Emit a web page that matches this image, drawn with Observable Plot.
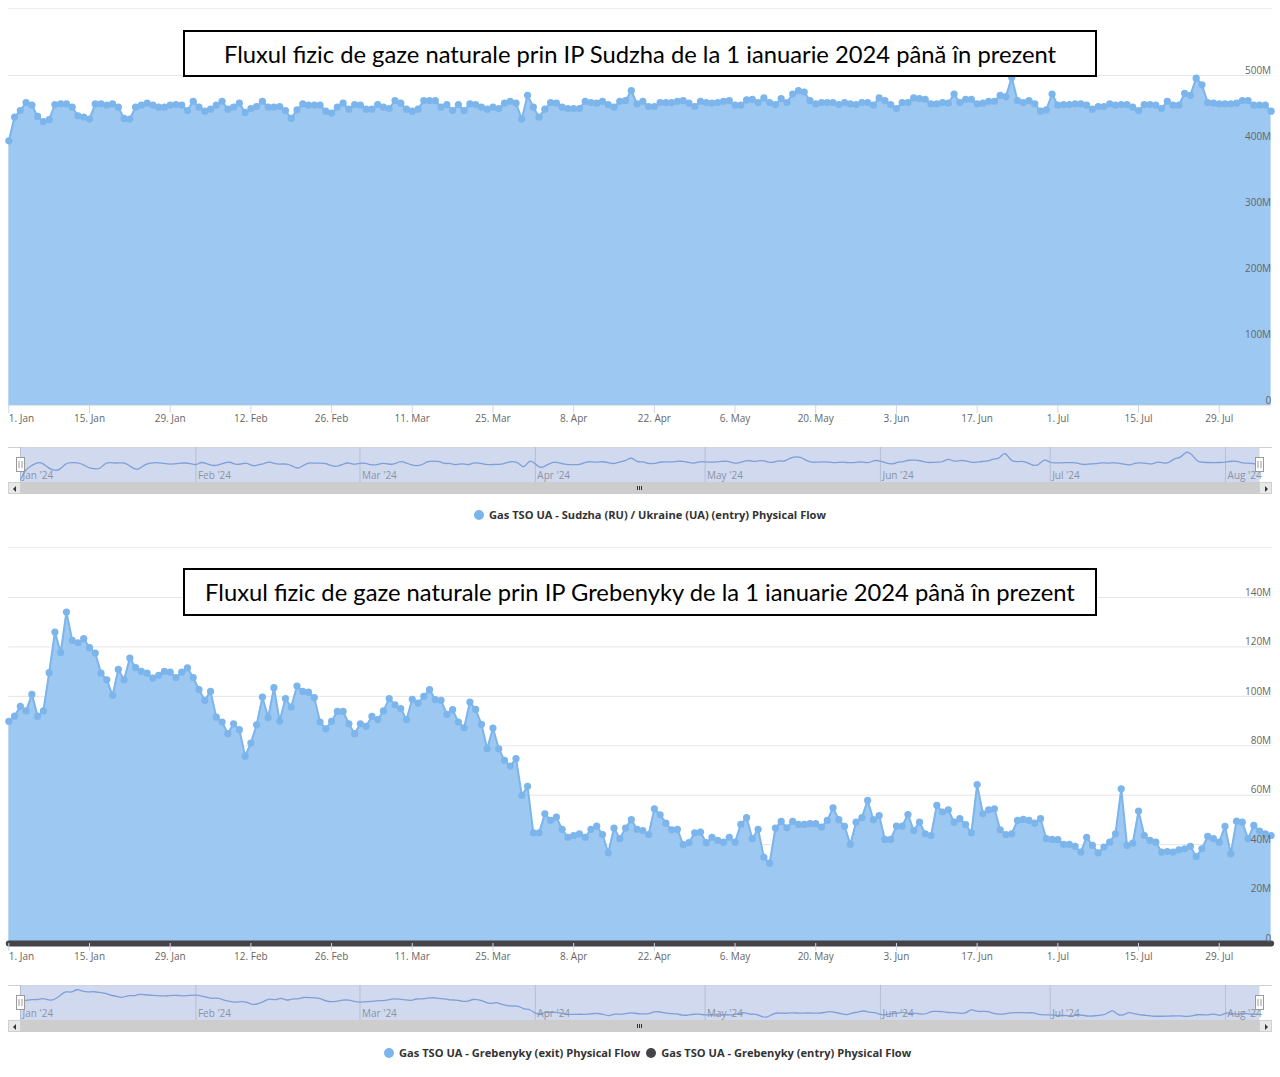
<!DOCTYPE html>
<html><head><meta charset="utf-8">
<script src="https://cdn.jsdelivr.net/npm/d3@7"></script>
<script src="https://cdn.jsdelivr.net/npm/@observablehq/plot@0.6"></script>
<style>
html,body{margin:0;padding:0;background:#fff;}
#root{position:relative;width:1280px;height:1077px;overflow:hidden;font-family:"Open Sans",sans-serif;}
#root > *{position:absolute;}
.sep{left:8px;width:1264px;height:1px;background:#ececec;}
.titlebox{left:183px;width:914px;border:2px solid #000;background:#fff;box-sizing:border-box;display:flex;align-items:center;justify-content:center;font-family:Lato,sans-serif;color:#000;white-space:nowrap;}
.navline{left:8px;width:1264px;height:1px;background:#cfcfcf;}
.scroll{left:8px;width:1264px;height:12px;background:#cdcdcd;}
.btn{position:absolute;top:0;width:13px;height:12px;background:#e8e8e8;box-sizing:border-box;border:1px solid #cfcfcf;}
.arrow{position:absolute;top:3px;width:0;height:0;border-top:3px solid transparent;border-bottom:3px solid transparent;}
.arrow.l{left:4px;border-right:3px solid #333;}
.arrow.r{left:5px;border-left:3px solid #333;}
.grip{position:absolute;left:629px;top:4px;width:1px;height:4px;background:#333;box-shadow:2px 0 0 #333,4px 0 0 #333;}
.legend{font-size:11.1px;font-weight:700;color:#333;white-space:nowrap;line-height:14px;}
.legend .dot{display:inline-block;width:10px;height:10px;border-radius:50%;vertical-align:-1px;margin-right:5px;}
</style></head>
<body><div id="root"></div>
<script>
// ---------------- DATA ----------------
const startDate = "2024-01-01";

// Sudzha (RU) / Ukraine (UA) entry physical flow, million units per day
const sudzha = [
401,437,447,459,455,438,430,433,456,457,
457,452,439,437,434,457,457,455,457,452,
435,434,452,455,458,455,452,452,455,456,
455,447,461,452,446,449,455,461,449,452,
458,444,450,453,461,452,452,453,447,435,
448,457,455,455,455,446,443,452,458,449,
456,455,449,449,456,452,450,462,458,449,
446,449,
462,462,462,452,456,447,456,447,457,456,
452,449,452,450,458,461,458,434,470,452,
437,449,459,458,452,450,450,450,461,459,
458,461,456,452,461,462,477,457,461,453,
453,459,459,459,461,462,458,453,461,459,
458,459,461,462,455,455,463,464,459,466,
459,456,465,459,472,477,475,462,457,459,
459,459,456,
459,457,456,459,459,455,466,462,456,450,
459,459,466,465,464,457,457,459,458,472,
459,464,464,457,458,461,461,470,468,497,
462,459,462,457,446,448,472,455,456,456,
457,457,455,449,453,453,457,455,456,456,
452,447,456,456,455,450,461,455,455,473,
470,496,486,459,458,457,457,457,458,462,
462,455,455,455,446
];

// Grebenyky (exit) physical flow
const grebenykyExit = [
89.9,92.0,96.0,94.1,100.8,92.0,94.1,109.6,126.0,117.7,
134.1,122.7,121.7,123.4,119.7,117.5,109.4,106.7,100.4,110.9,
106.7,115.5,111.6,110.1,109.4,107.4,108.5,110.1,109.8,107.6,
109.8,111.5,107.6,102.7,98.4,102.0,91.6,89.6,84.9,88.9,
86.5,75.8,81.1,88.5,99.7,91.4,103.5,90.0,99.1,95.7,
104.2,102.0,101.7,99.5,89.6,86.9,89.9,93.9,93.9,88.9,
84.9,88.9,87.9,91.9,90.6,94.1,99.1,96.6,95.0,90.6,
98.8,97.3,
100.0,102.7,98.7,98.4,92.7,94.6,89.6,87.3,97.7,94.7,
88.7,78.8,87.2,78.8,74.1,71.8,74.8,59.9,63.6,44.8,
44.8,52.5,49.8,51.1,46.2,43.0,43.7,44.4,43.0,46.2,
47.5,44.1,36.7,46.7,42.4,46.7,50.1,46.2,45.7,44.1,
54.5,52.1,48.7,46.0,46.2,40.0,40.8,44.8,45.1,40.8,
43.0,41.7,41.0,43.0,41.0,48.2,50.9,42.4,46.2,34.9,
32.5,46.7,49.4,46.8,49.4,48.2,48.2,48.5,48.5,47.1,
49.8,54.9,50.1,47.4,40.1,49.1,
50.9,57.9,50.1,51.8,42.1,42.1,47.5,47.5,52.2,45.7,
49.1,44.4,43.7,55.9,53.2,54.1,49.1,50.5,48.1,44.8,
64.3,52.5,54.1,54.5,46.0,44.1,44.4,49.8,50.2,49.8,
48.7,50.5,42.4,42.1,42.0,40.1,40.1,39.3,37.0,43.0,
39.7,36.7,39.0,41.0,44.4,62.6,39.7,40.6,53.6,43.7,
41.7,41.0,37.0,37.2,37.0,37.9,38.3,39.3,35.2,38.3,
43.4,42.4,41.0,47.4,36.3,49.5,49.1,42.4,47.8,45.5,
44.4,43.7
];

// Grebenyky (entry) physical flow — zero throughout
const grebenykyEntry = [
0,0,0,0,0,0,0,0,0,0, 0,0,0,0,0,0,0,0,0,0, 0,0,0,0,0,0,0,0,0,0,
0,0,0,0,0,0,0,0,0,0, 0,0,0,0,0,0,0,0,0,0, 0,0,0,0,0,0,0,0,0,0,
0,0,0,0,0,0,0,0,0,0, 0,0,0,0,0,0,0,0,0,0, 0,0,0,0,0,0,0,0,0,0,
0,0,0,0,0,0,0,0,0,0, 0,0,0,0,0,0,0,0,0,0, 0,0,0,0,0,0,0,0,0,0,
0,0,0,0,0,0,0,0,0,0, 0,0,0,0,0,0,0,0,0,0, 0,0,0,0,0,0,0,0,0,0,
0,0,0,0,0,0,0,0,0,0, 0,0,0,0,0,0,0,0,0,0, 0,0,0,0,0,0,0,0,0,0,
0,0,0,0,0,0,0,0,0,0, 0,0,0,0,0,0,0,0,0,0,
0,0,0,0,0,0,0,0,0,0, 0,0,0,0,0,0,0,0,0,0
];

const xTickLabels = ["2024-01-01","2024-01-15","2024-01-29","2024-02-12","2024-02-26","2024-03-11","2024-03-25","2024-04-08","2024-04-22","2024-05-06","2024-05-20","2024-06-03","2024-06-17","2024-07-01","2024-07-15","2024-07-29"];
const monthTickLabels = ["2024-01-01","2024-02-01","2024-03-01","2024-04-01","2024-05-01","2024-06-01","2024-07-01","2024-08-01"];
const yTicksSudzha = [0,100,200,300,400,500];
const yTicksGrebenyky = [0,20,40,60,80,100,120,140];

const title1 = "Fluxul fizic de gaze naturale prin IP Sudzha de la 1 ianuarie 2024 până în prezent";
const title2 = "Fluxul fizic de gaze naturale prin IP Grebenyky de la 1 ianuarie 2024 până în prezent";
const legend1 = ["Gas TSO UA - Sudzha (RU) / Ukraine (UA) (entry) Physical Flow"];
const legend2 = ["Gas TSO UA - Grebenyky (exit) Physical Flow", "Gas TSO UA - Grebenyky (entry) Physical Flow"];

// ---------------- BUILD ----------------
const root = document.getElementById("root");
const start = new Date(startDate);
const dates = sudzha.map((_, i) => d3.utcDay.offset(start, i));
const xDomain = [dates[0], dates[dates.length - 1]];
const xTicks = xTickLabels.map(s => new Date(s));
const monthTicks = monthTickLabels.map(s => new Date(s));
const fmtDay = d3.utcFormat("%-d. %b");
const fmtMonth = d3.utcFormat("%b '%y");
const fmtM = d => d === 0 ? "0" : d + "M";
const BLUE = "#7cb5ec";
const AREA = "#9dc8f1";
const DARK = "#434348";

function place(el, top, left = 0) {
  el.style.position = "absolute";
  el.style.top = top + "px";
  el.style.left = left + "px";
  root.appendChild(el);
  return el;
}
function div(cls, top, extra = "") {
  const d = document.createElement("div");
  d.className = cls;
  d.style.cssText = `top:${top}px;` + extra;
  root.appendChild(d);
  return d;
}

function mainChart(series, yTicks, top, height, marginTop, marginBottom, extra = []) {
  const rows = series.map((v, i) => ({date: dates[i], v}));
  const axisOpts = {tickSize: 8, tickPadding: 1, stroke: "#ccd6eb", fill: "#666", fontSize: 10, label: null};
  const svg = Plot.plot({
    width: 1280, height, marginTop, marginBottom, marginLeft: 8.3, marginRight: 9.4,
    x: {type: "utc", domain: xDomain},
    y: {domain: [0, d3.max(yTicks)]},
    style: {fontFamily: "'Open Sans', sans-serif", fontSize: "10px", background: "transparent", overflow: "visible"},
    marks: [
      Plot.gridY(yTicks, {stroke: "#e6e6e6", strokeOpacity: 1}),
      Plot.areaY(rows, {x: "date", y: "v", fill: AREA}),
      Plot.lineY(rows, {x: "date", y: "v", stroke: BLUE, strokeWidth: 2}),
      Plot.dot(rows, {x: "date", y: "v", r: 3.6, fill: BLUE}),
      ...extra,
      Plot.axisX(xTicks.slice(1), {...axisOpts, tickFormat: fmtDay}),
      Plot.axisX(xTicks.slice(0, 1), {...axisOpts, tickFormat: fmtDay, textAnchor: "start"}),
      Plot.axisY(yTicks, {anchor: "right", tickSize: 0, tickPadding: 0, textAnchor: "end", dy: -5, tickFormat: fmtM, fill: "#666", fontSize: 10, label: null})
    ]
  });
  place(svg, top);
}

function navigator(series, top) {
  const rows = series.map((v, i) => ({date: dates[i], v}));
  const [lo, hi] = d3.extent(series);
  const pad = (hi - lo) * 0.1;
  const svg = Plot.plot({
    width: 1280, height: 35, marginTop: 0, marginBottom: 0, marginLeft: 20, marginRight: 21,
    x: {type: "utc", domain: xDomain, axis: null},
    y: {domain: [lo - pad, hi + pad], axis: null},
    style: {fontFamily: "'Open Sans', sans-serif", fontSize: "10px", background: "transparent", overflow: "visible"},
    marks: [
      Plot.frame({fill: "#d0d9ee", stroke: null}),
      Plot.gridX(monthTicks, {stroke: "#b4bfd6", strokeOpacity: 1}),
      Plot.lineY(rows, {x: "date", y: "v", curve: "basis", stroke: "#7f9fd8", strokeWidth: 1.3}),
      Plot.text(monthTicks, {x: d => d, text: d => fmtMonth(d), frameAnchor: "bottom", lineAnchor: "middle", dy: -7, dx: 2, textAnchor: "start", fill: "#8a93a5", fontSize: 10}),
      Plot.tickX(xDomain, {x: d => d, stroke: "#999", strokeWidth: 9, insetTop: 10, insetBottom: 10}),
      Plot.tickX(xDomain, {x: d => d, stroke: "#fff", strokeWidth: 7, insetTop: 11, insetBottom: 11}),
      Plot.tickX(xDomain, {x: d => d, stroke: "#999", strokeWidth: 1, dx: -1.5, insetTop: 14, insetBottom: 14}),
      Plot.tickX(xDomain, {x: d => d, stroke: "#999", strokeWidth: 1, dx: 1.5, insetTop: 14, insetBottom: 14})
    ]
  });
  place(svg, top);
}

function scrollbar(top) {
  const s = div("scroll", top);
  s.innerHTML = '<div class="btn" style="left:0"><i class="arrow l"></i></div><div class="btn" style="right:0"><i class="arrow r"></i></div><div class="grip"></div>';
}

function titleBox(text, top, height, targetW) {
  const box = div("titlebox", top, `height:${height}px;`);
  const span = document.createElement("span");
  span.textContent = text;
  span.style.fontSize = "22px";
  box.appendChild(span);
  const w = span.getBoundingClientRect().width;
  span.style.fontSize = (22 * targetW / w).toFixed(2) + "px";
}

function legend(items, colors, top, left) {
  const d = div("legend", top, `left:${left}px;`);
  d.innerHTML = items.map((t, i) => `<span style="margin-right:${i < items.length - 1 ? 6 : 0}px"><span class="dot" style="background:${colors[i]}"></span>${t}</span>`).join("");
}

// separators
div("sep", 8);
div("sep", 547);

// Chart 1: Sudzha
mainChart(sudzha, yTicksSudzha, 0, 430, 75, 25);
titleBox(title1, 30, 47, 832);
div("navline", 447);
navigator(sudzha, 447);
scrollbar(482);
legend(legend1, [BLUE], 508, 474);

// Chart 2: Grebenyky
const zeroRows = grebenykyEntry.map((v, i) => ({date: dates[i], v}));
mainChart(grebenykyExit, yTicksGrebenyky, 540, 430, 57, 27, [
  Plot.lineY(zeroRows, {x: "date", y: "v", stroke: DARK, strokeWidth: 6, strokeLinecap: "round"})
]);
titleBox(title2, 568, 48, 870);
div("navline", 985);
navigator(grebenykyExit, 985);
scrollbar(1020);
legend(legend2, [BLUE, DARK], 1046, 384);
</script>
</body></html>
